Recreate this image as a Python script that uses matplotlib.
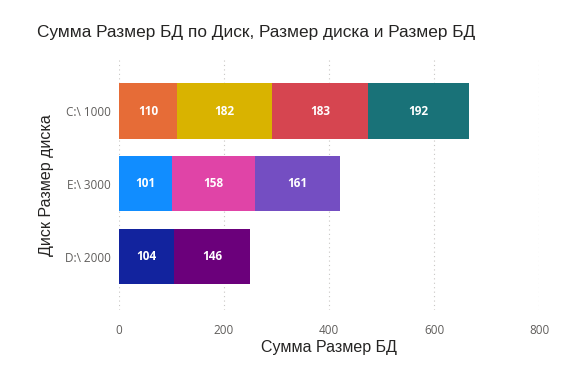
import matplotlib
matplotlib.use("Agg")
import matplotlib.pyplot as plt

plt.rcParams['font.family'] = ['Open Sans', 'DejaVu Sans']

categories = ["C:\\ 1000", "E:\\ 3000", "D:\\ 2000"]
segments = [
    [110, 182, 183, 192],
    [101, 158, 161],
    [104, 146],
]
colors = [
    ["#E66C37", "#D9B300", "#D64550", "#197278"],
    ["#118DFF", "#E044A7", "#744EC2"],
    ["#12239E", "#6B007B"],
]
xticks = [0, 200, 400, 600, 800]

fig = plt.figure(figsize=(5.68, 3.69), dpi=100)
ax = fig.add_axes([0.2095, 0.16, 0.7395, 0.677])

for i, (vals, cols) in enumerate(zip(segments, colors)):
    left = 0
    for v, c in zip(vals, cols):
        ax.barh(i, v, left=left, height=0.76, color=c, zorder=3)
        ax.text(left + v / 2, i, str(v), ha='center', va='center',
                color='white', fontsize=8.5, fontweight='bold', zorder=4)
        left += v

ax.set_yticks(range(len(categories)))
ax.set_yticklabels(categories)
ax.set_ylim(2.735, -0.70)
ax.set_xlim(0, 800)
ax.set_xticks(xticks)
ax.set_xticklabels([str(t) for t in xticks])
ax.grid(axis='x', color='#C8C6C4', linestyle=(0, (1, 3)), linewidth=0.8, zorder=0)
for s in ax.spines.values():
    s.set_visible(False)
ax.tick_params(axis='both', length=0, colors='#605E5C', labelsize=8.5)
ax.tick_params(axis='x', pad=10)
ax.tick_params(axis='y', pad=6)

lab_font = ['Liberation Sans', 'DejaVu Sans']
ax.set_xlabel("Сумма Размер БД", fontsize=11.5, color='#252423', labelpad=2, family=lab_font)
ax.set_ylabel("Диск Размер диска", fontsize=11.5, color='#252423', labelpad=8, family=lab_font)

fig.text(37 / 568, 1 - 33 / 369, "Сумма Размер БД по Диск, Размер диска и Размер БД",
         fontsize=12.4, color='#252423', ha='left', va='center', family=lab_font)

fig.savefig("out.png", dpi=100)
